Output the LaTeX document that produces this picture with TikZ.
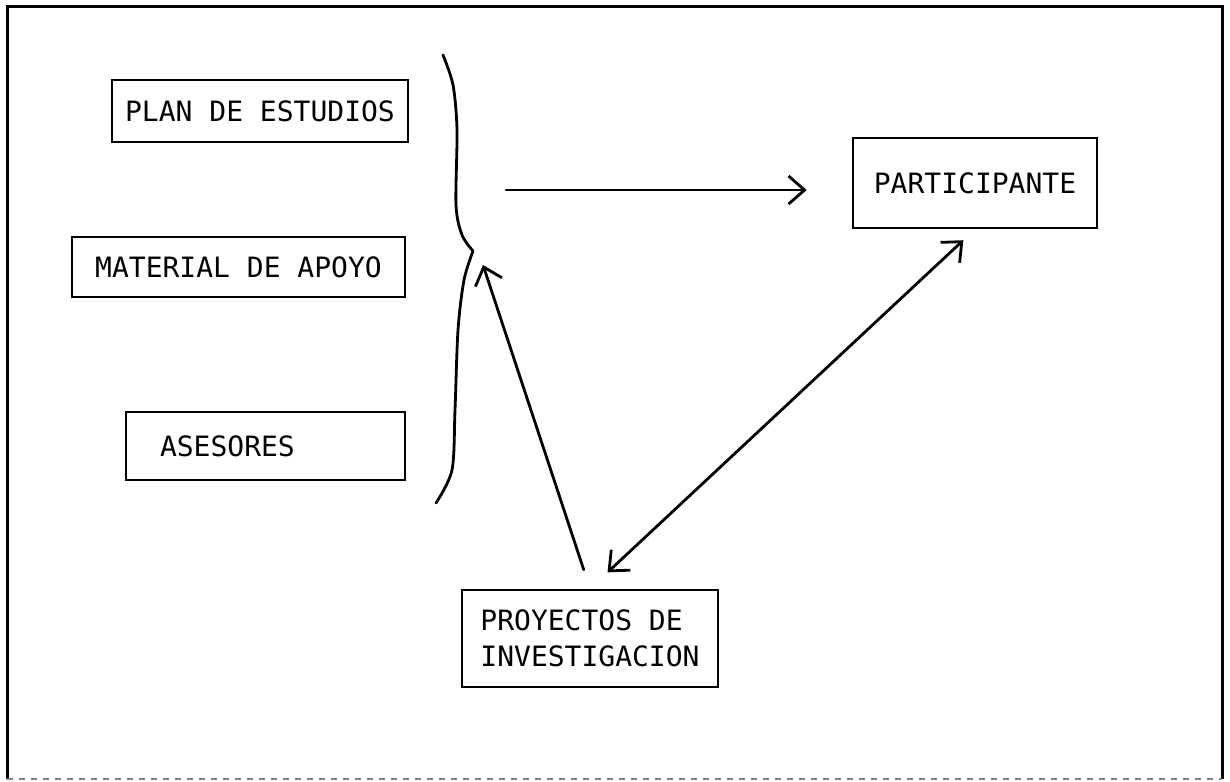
\documentclass[tikz,border=0pt]{standalone}
\usepackage{fontspec}
\newfontfamily\plotfont{DejaVu Sans Mono}
\usetikzlibrary{arrows.meta}

\tikzset{
	caja/.style={draw,line width=1.3pt,inner sep=0pt,font=\plotfont\fontsize{14pt}{18pt}\selectfont},
	trazo/.style={line width=1.4pt,line cap=round,line join=round},
	>={Straight Barb[length=8pt,width=14pt]}
}

\begin{document}
\begin{tikzpicture}[x=0.5pt,y=-0.5pt]
	\useasboundingbox (0,0) rectangle (1230,781);
	% marco
	\draw[line width=1.5pt] (7,779) -- (7,7) -- (1222,7) -- (1222,779);
	\draw[gray,dashed,line width=1pt] (7,779) -- (1222,779);
	
	% recursos
	\node[caja,minimum width=148pt,minimum height=31pt] (plan) at (260,111) {PLAN DE ESTUDIOS};
	\node[caja,minimum width=166.5pt,minimum height=30pt] (material) at (238.5,267) {MATERIAL DE APOYO};
	\node[caja,minimum width=139.5pt,minimum height=34pt,inner xsep=17pt,text width=105.5pt,align=left] (asesores) at (265.5,446) {ASESORES};
	
	\node[caja,minimum width=122pt,minimum height=45pt] (participante) at (975,183) {PARTICIPANTE};
	\node[caja,minimum width=128pt,minimum height=48.5pt,align=left] (proyectos) at (590,638.5) {PROYECTOS DE\\INVESTIGACION};
	
	% llave
	\draw[trazo] plot[smooth] coordinates {(443,55) (453,85) (457,130) (456,205) (462,235) (473,251)};
	\draw[trazo] plot[smooth] coordinates {(473,251) (464,280) (458,330) (455,410) (452,470) (436,503)};
	
	\coordinate (union) at (506,190);
	\coordinate (entrada) at (483,265);
	
	% flechas
	\draw[trazo,->,shorten >=22.5pt] (union) -- (participante.west |- union);
	\draw[trazo,->,shorten <=10pt] (proyectos.north) -- (entrada);
	\draw[trazo,<->,shorten <=12pt,shorten >=8pt] (proyectos.north) -- (participante.south);
	
\end{tikzpicture}
\end{document}
